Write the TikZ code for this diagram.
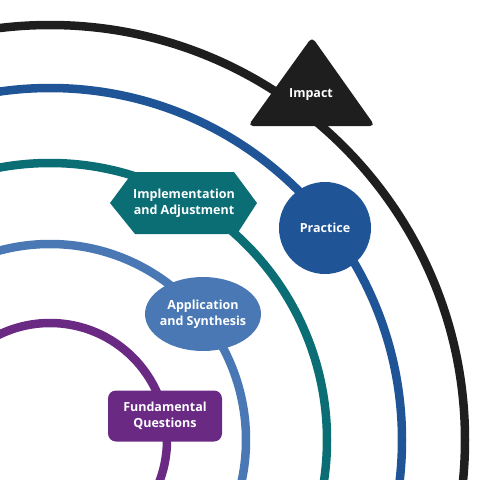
\documentclass[tikz,border=0pt]{standalone}
\usepackage{fontspec}
\setmainfont{Open Sans}
\usetikzlibrary{shapes.geometric}

\definecolor{impactblack}{HTML}{1E1E1E}
\definecolor{practiceblue}{HTML}{1F5597}
\definecolor{implteal}{HTML}{0B6E75}
\definecolor{applblue}{HTML}{4A78B4}
\definecolor{fundpurple}{HTML}{6A2A84}

\tikzset{
  ring/.style={line width=8.5pt},
  labeltext/.style={text=white, align=center,
    font=\bfseries\fontsize{12.5}{16}\selectfont}
}

\begin{document}
\begin{tikzpicture}[x=1pt,y=-1pt]

    \useasboundingbox (0,0) rectangle (480,480);
    \clip (0,0) rectangle (480,480);

    % the rings
    \coordinate (centre) at (50,440);
    \draw[ring, fundpurple]   (centre) circle (117pt);
    \draw[ring, applblue]     (centre) circle (196pt);
    \draw[ring, implteal]     (centre) circle (277pt);
    \draw[ring, practiceblue] (centre) circle (352pt);
    \draw[ring, impactblack]  (centre) circle (415pt);

    % Impact
    \fill[impactblack, rounded corners=5pt] (248,126) -- (312,37) -- (375,126) -- cycle;
    \node[labeltext] (impact) at (311,95) {Impact};

    % Practice
    \node[circle, fill=practiceblue, minimum size=92pt, labeltext] (practice) at (325,228) {Practice};

    % Implementation and Adjustment
    \fill[implteal] (110,203) -- (133,172) -- (234,172) -- (257,203) -- (237,234) -- (135,234) -- cycle;
    \node[labeltext] (impl) at (184,203) {Implementation\\and Adjustment};

    % Application and Synthesis
    \node[ellipse, fill=applblue, inner sep=0pt, minimum width=116pt, minimum height=74pt] (applshape) at (203,314) {};
    \node[labeltext] (appl) at (applshape) {Application\\and Synthesis};

    % Fundamental Questions
    \node[rectangle, rounded corners=8pt, fill=fundpurple, minimum width=114pt, minimum height=51pt, labeltext] (fund) at (165,416) {Fundamental\\Questions};

\end{tikzpicture}
\end{document}
